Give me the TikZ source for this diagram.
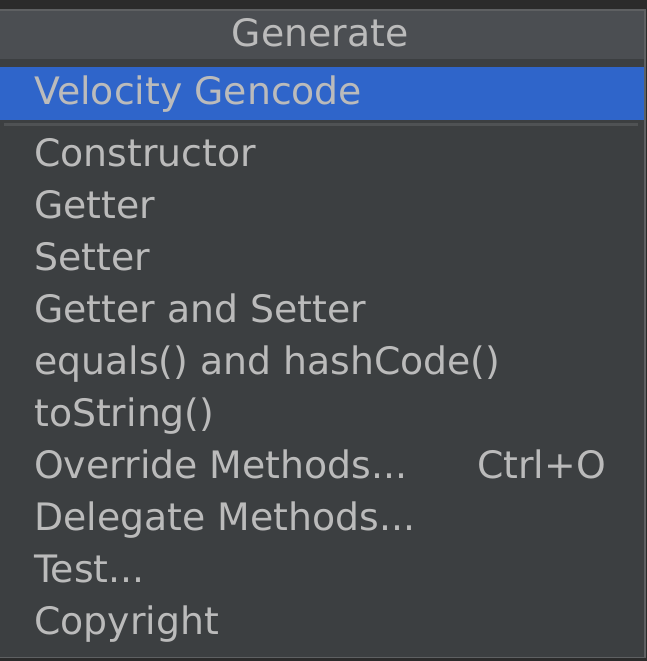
\documentclass[tikz,border=0pt]{standalone}
\usepackage{fontspec}
\setmainfont{DejaVu Sans}
\definecolor{outerbg}{HTML}{2B2B2B}
\definecolor{panelbg}{HTML}{3C3F41}
\definecolor{headbg}{HTML}{4B4E52}
\definecolor{selbg}{HTML}{2F65CA}
\definecolor{sepcol}{HTML}{4F5254}
\definecolor{bordercol}{HTML}{5E6062}
\definecolor{txt}{HTML}{BBBBBB}
\begin{document}
\begin{tikzpicture}[x=1pt,y=-1pt,
  menutext/.style={inner sep=0pt,text=txt,font=\fontsize{37.8}{37.8}\selectfont},
  item/.style={menutext,anchor=base west}]
\useasboundingbox (0,0) rectangle (647,661);
\fill[outerbg] (0,0) rectangle (647,661);
\fill[panelbg] (0,10) rectangle (645,657.5);
\fill[headbg] (0,11) rectangle (644,59);
\fill[selbg] (0,67) rectangle (644,119.5);
\fill[sepcol] (4,123) rectangle (638,125.5);
\draw[bordercol,line width=1.5pt] (0,10) -- (645,10) -- (645,657.5) -- (0,657.5);
\node[menutext,anchor=base] (title) at (320,47) {Generate};
\node[item] (velocity) at (34,104) {Velocity Gencode};
\node[item] (constructor) at (34,166) {Constructor};
\node[item] (getter) at (34,218) {Getter};
\node[item] (setter) at (34,270) {Setter};
\node[item] (getset) at (34,322) {Getter and Setter};
\node[item] (equals) at (34,374) {equals() and hashCode()};
\node[item] (tostring) at (34,426) {toString()};
\node[item] (override) at (34,478) {Override Methods...};
\node[menutext,anchor=base east] (ctrlo) at (606,478) {Ctrl+O};
\node[item] (delegate) at (34,530) {Delegate Methods...};
\node[item] (test) at (34,582) {Test...};
\node[item] (copyright) at (34,634) {Copyright};
\end{tikzpicture}
\end{document}
